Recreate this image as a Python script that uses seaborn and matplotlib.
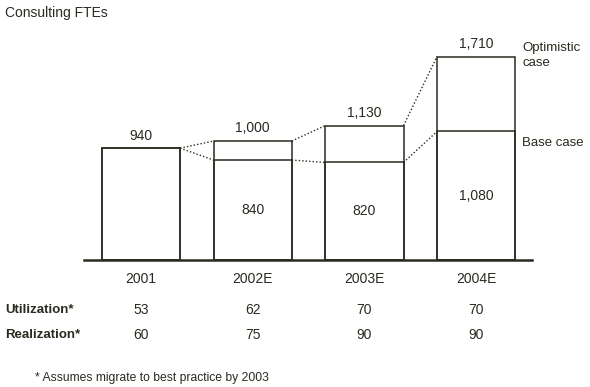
import matplotlib
matplotlib.use("Agg")
import matplotlib.pyplot as plt
import seaborn as sns
import pandas as pd

# data
years = ["2001", "2002E", "2003E", "2004E"]
optimistic = [940, 1000, 1130, 1710]
base = [940, 840, 820, 1080]
utilization = [53, 62, 70, 70]
realization = [60, 75, 90, 90]

INK = "#2a2a20"
sns.set_theme(style="white")
plt.rcParams["font.family"] = ["Liberation Sans", "DejaVu Sans"]

df = pd.DataFrame({"year": years, "optimistic": optimistic, "base": base})

fig = plt.figure(figsize=(5.9, 3.87), dpi=100)
fig.patch.set_facecolor("white")
ax = fig.add_axes([84 / 590, 1 - 260 / 387, 448 / 590, 220 / 387])

w = 0.70
sns.barplot(data=df, x="year", y="optimistic", fill=False, color=INK,
            width=w, linewidth=1.1, ax=ax, errorbar=None)
sns.barplot(data=df, x="year", y="base", fill=False, color=INK,
            width=w, linewidth=1.1, ax=ax, errorbar=None)
for p in ax.patches:
    p.set_edgecolor(INK)

ax.set_xlim(-0.51, 3.50)
ax.set_ylim(0, 1849)
for s in ["top", "left", "right"]:
    ax.spines[s].set_visible(False)
ax.spines["bottom"].set_linewidth(1.8)
ax.spines["bottom"].set_color(INK)
ax.set_xticks([])
ax.set_yticks([])
ax.set_xlabel("")
ax.set_ylabel("")

# dotted connectors between bars
for i in range(len(years) - 1):
    x0, x1 = i + w / 2, i + 1 - w / 2
    ax.plot([x0, x1], [optimistic[i], optimistic[i + 1]], ls=(0, (1, 1.5)),
            color=INK, lw=1.0)
    ax.plot([x0, x1], [base[i], base[i + 1]], ls=(0, (1, 1.5)),
            color=INK, lw=1.0)

# value labels
for i, v in enumerate(optimistic):
    ax.annotate(f"{v:,}", (i, v), xytext=(0, 4), textcoords="offset points",
                ha="center", va="bottom", fontsize=10, color=INK)
for i in range(1, len(years)):
    ax.text(i, base[i] / 2, f"{base[i]:,}", ha="center", va="center",
            fontsize=10, color=INK)

# right side labels
last = len(years) - 1
ax.annotate("Optimistic\ncase", (last + w / 2, optimistic[last]),
            xytext=(5, 1), textcoords="offset points", ha="left",
            va="center", fontsize=9.5, color=INK, annotation_clip=False,
            linespacing=1.35)
ax.annotate("Base case", (last + w / 2, base[last]),
            xytext=(5, -8), textcoords="offset points", ha="left",
            va="center", fontsize=9.5, color=INK, annotation_clip=False)

# table under the chart
tr = ax.get_xaxis_transform()
for i, y in enumerate(years):
    ax.text(i, -0.086, y, transform=tr, ha="center", va="center",
            fontsize=10, color=INK)
    ax.text(i, -0.227, str(utilization[i]), transform=tr, ha="center",
            va="center", fontsize=10, color=INK)
    ax.text(i, -0.341, str(realization[i]), transform=tr, ha="center",
            va="center", fontsize=10, color=INK)

fig.text(5 / 590, 1 - 310 / 387, "Utilization*", ha="left", va="center",
         fontsize=9.5, fontweight="bold", color=INK)
fig.text(5 / 590, 1 - 335 / 387, "Realization*", ha="left", va="center",
         fontsize=9.5, fontweight="bold", color=INK)

fig.text(5 / 590, 1 - 13 / 387, "Consulting FTEs", ha="left", va="center",
         fontsize=10, color=INK)
fig.text(35 / 590, 1 - 378 / 387, "* Assumes migrate to best practice by 2003",
         ha="left", va="center", fontsize=8.7, color=INK)

fig.savefig("out.png", dpi=100, facecolor="white")
